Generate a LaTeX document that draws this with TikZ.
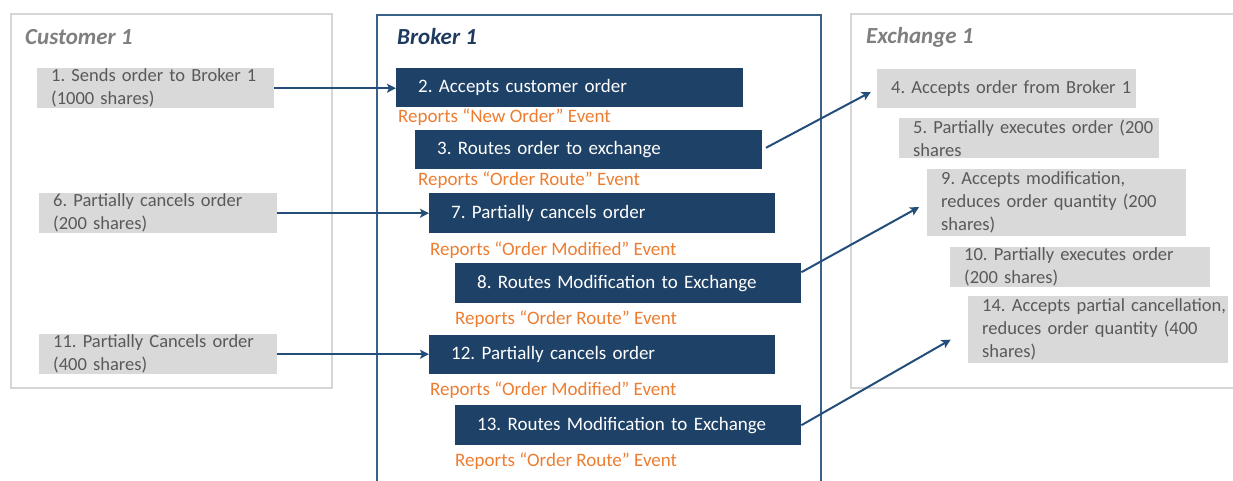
\documentclass[tikz,border=0pt]{standalone}
\usepackage{fontspec}
\setmainfont{Carlito}
\usetikzlibrary{arrows.meta, positioning}
\definecolor{navybox}{HTML}{1E4167}
\definecolor{navyline}{HTML}{234E7A}
\definecolor{navyframe}{HTML}{3A6186}
\definecolor{navytitle}{HTML}{1F3A5F}
\definecolor{stepgray}{HTML}{D9D9D9}
\definecolor{framegray}{HTML}{D6D6D6}
\definecolor{textgray}{HTML}{595959}
\definecolor{titlegray}{HTML}{7F7F7F}
\definecolor{eventorange}{HTML}{ED7D31}
\frenchspacing

\begin{document}
\begin{tikzpicture}[x=1pt, y=-1pt,
    panel/.style={rectangle, anchor=north west, line width=2pt, inner sep=0pt},
    ttl/.style={anchor=west, inner sep=0pt, font=\fontsize{23}{27}\selectfont\bfseries\itshape},
    act/.style={rectangle, anchor=north west, fill=stepgray, inner xsep=0pt, inner ysep=0pt,
      align=left, text=textgray, font=\fontsize{18.5}{23}\selectfont,
      execute at begin node={\leftskip=14pt\relax}},
    brk/.style={rectangle, anchor=north west, fill=navybox, inner xsep=22pt, inner ysep=0pt,
      align=left, text=white, font=\fontsize{19}{23}\selectfont},
    evt/.style={anchor=west, inner sep=0pt, text=eventorange, font=\fontsize{19}{23}\selectfont},
    arr/.style={-{Stealth[length=9pt, width=9pt, inset=2pt]}, color=navyline, line width=2pt}
  ]
    \useasboundingbox (0,0) rectangle (1233,480);

    % ── Panels
    \node[panel, draw=framegray, minimum width=321pt, minimum height=374pt] (cust) at (10,13) {};
    \node[panel, draw=navyframe, minimum width=444pt, minimum height=480pt] (brok) at (376,14) {};
    \node[panel, draw=framegray, minimum width=400pt, minimum height=374pt] (exch) at (850,13) {};

    \node[ttl, text=titlegray] (custttl) at (25,37) {Customer 1};
    \node[ttl, text=navytitle] (brokttl) at (397,37) {Broker 1};
    \node[ttl, text=titlegray] (exchttl) at (866,37) {Exchange 1};

    % ── Customer steps
    \node[act, minimum height=40pt, text width=237pt] (c1) at (37,68)
      {1. Sends order to Broker 1\\(1000 shares)};
    \node[act, minimum height=40pt, text width=238pt] (c6) at (39,193)
      {6. Partially cancels order\\(200 shares)};
    \node[act, minimum height=40pt, text width=238pt] (c11) at (39,334)
      {11. Partially Cancels order\\(400 shares)};

    % ── Broker steps
    \node[brk, minimum width=347pt, minimum height=39pt, text width=303pt] (b2) at (396,68)
      {2. Accepts customer order};
    \node[evt] (ev2) at (398,117) {Reports “New Order” Event};
    \node[brk, minimum width=347pt, minimum height=39pt, text width=303pt] (b3) at (415,130)
      {3. Routes order to exchange};
    \node[evt] (ev3) at (418,180) {Reports “Order Route” Event};
    \node[brk, minimum width=346pt, minimum height=40pt, text width=302pt] (b7) at (429,193)
      {7. Partially cancels order};
    \node[evt] (ev7) at (430,250) {Reports “Order Modified” Event};
    \node[brk, minimum width=346pt, minimum height=40pt, text width=302pt] (b8) at (455,263)
      {8. Routes Modification to Exchange};
    \node[evt] (ev8) at (455,319) {Reports “Order Route” Event};
    \node[brk, minimum width=346pt, minimum height=39pt, text width=302pt] (b12) at (429,335)
      {12. Partially cancels order};
    \node[evt] (ev12) at (430,390) {Reports “Order Modified” Event};
    \node[brk, minimum width=346pt, minimum height=40pt, text width=302pt] (b13) at (455,405)
      {13. Routes Modification to Exchange};
    \node[evt] (ev13) at (455,461) {Reports “Order Route” Event};

    % ── Exchange steps
    \node[act, minimum height=39pt, text width=259pt] (e4) at (877,69)
      {4. Accepts order from Broker 1};
    \node[act, minimum height=40pt, text width=260pt] (e5) at (899,118)
      {5. Partially executes order (200\\shares};
    \node[act, minimum height=67pt, text width=259pt] (e9) at (927,169)
      {9. Accepts modification,\\reduces order quantity (200\\shares)};
    \node[act, minimum height=40pt, text width=260pt] (e10) at (950,247)
      {10. Partially executes order\\(200 shares)};
    \node[act, minimum height=67pt, text width=260pt] (e14) at (968,296)
      {14. Accepts partial cancellation,\\reduces order quantity (400\\shares)};

    % ── Arrows
    \draw[arr] (c1.east) -- (c1.east -| b2.west);
    \draw[arr] (c6.east) -- (c6.east -| b7.west);
    \draw[arr] (c11.east) -- (c11.east -| b12.west);
    \draw[arr, shorten <=4pt, shorten >=7pt] (b3.east) -- (e4.west);
    \draw[arr, shorten >=9pt] ([yshift=11pt]b8.east) -- (e9.west);
    \draw[arr, shorten >=20pt] (b13.east) -- (e14.west);
  \end{tikzpicture}
\end{document}
